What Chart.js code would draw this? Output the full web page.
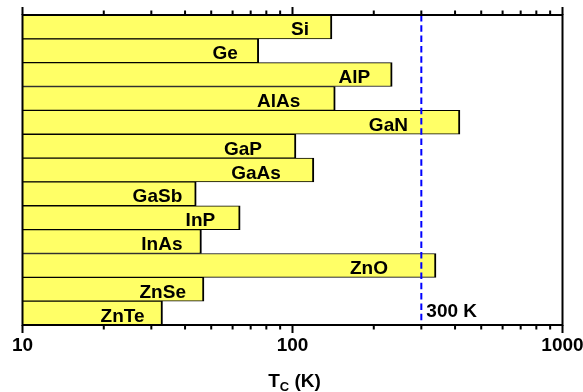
<!DOCTYPE html>
<html>
<head>
<meta charset="utf-8">
<script src="https://cdn.jsdelivr.net/npm/chart.js@4.4.1/dist/chart.umd.min.js"></script>
<style>
  html, body { margin: 0; padding: 0; background: #fff; }
  #wrap { width: 583px; height: 392px; }
</style>
</head>
<body>
<div id="wrap"><canvas id="tcChart"></canvas></div>
<script>
// Curie temperatures (K)
const materials = ["Si", "Ge", "AlP", "AlAs", "GaN", "GaP", "GaAs", "GaSb", "InP", "InAs", "ZnO", "ZnSe", "ZnTe"];
const tcValues = [140, 75, 234, 144, 417, 103, 120, 44, 64, 46, 340, 47, 33];
const tickLabels = [10, 100, 1000];
const roomTemp = 300;

// how far each name sits left of its bar end (px)
const labelGaps = [23, 21, 22, 35, 52, 34, 33, 14, 25, 19, 48, 18, 18];

const FONT = "'Liberation Sans', Arial, Helvetica, sans-serif";

const frame = {
  id: "frame",
  afterDatasetsDraw(chart) {
    const { ctx, chartArea: a, scales } = chart;
    const x = scales.x, y = scales.y;
    ctx.save();

    // names inside the bars
    ctx.fillStyle = "#000";
    ctx.font = "bold 19px " + FONT;
    ctx.textAlign = "right";
    ctx.textBaseline = "alphabetic";
    materials.forEach((m, i) => {
      const px = x.getPixelForValue(tcValues[i]);
      const py = y.getPixelForValue(i);
      ctx.fillText(m, px - labelGaps[i], py + 8.5);
    });

    // 300 K marker
    const rx = x.getPixelForValue(roomTemp);
    ctx.strokeStyle = "#0000ff";
    ctx.lineWidth = 2;
    ctx.setLineDash([6.5, 3.8]);
    ctx.beginPath();
    ctx.moveTo(rx, a.top);
    ctx.lineTo(rx, a.bottom);
    ctx.stroke();
    ctx.setLineDash([]);
    ctx.textAlign = "left";
    ctx.fillText(roomTemp + " K", rx + 5, a.bottom - 8.5);

    // box
    ctx.strokeStyle = "#000";
    ctx.lineWidth = 2;
    ctx.strokeRect(a.left, a.top, a.right - a.left, a.bottom - a.top);

    // log ticks, outward on top and bottom
    ctx.lineWidth = 2;
    ctx.beginPath();
    for (let dec = 10; dec < 1000; dec *= 10) {
      for (let k = 1; k <= 10; k++) {
        const px = x.getPixelForValue(dec * k);
        const len = (k === 1 || k === 10) ? 8 : 4.5;
        ctx.moveTo(px, a.top);
        ctx.lineTo(px, a.top - len);
        ctx.moveTo(px, a.bottom);
        ctx.lineTo(px, a.bottom + len);
      }
    }
    ctx.stroke();

    // axis title T_C (K)
    const cx = (a.left + a.right) / 2 + 2;
    const by = 386.5;
    ctx.font = "bold 19px " + FONT;
    const wT = ctx.measureText("T").width;
    const wK = ctx.measureText(" (K)").width;
    ctx.font = "bold 13px " + FONT;
    const wC = ctx.measureText("C").width;
    const sx = cx - (wT + wC + wK) / 2;
    ctx.font = "bold 19px " + FONT;
    ctx.fillText("T", sx, by);
    ctx.font = "bold 13px " + FONT;
    ctx.fillText("C", sx + wT, by + 4);
    ctx.font = "bold 19px " + FONT;
    ctx.fillText(" (K)", sx + wT + wC, by);

    ctx.restore();
  }
};

new Chart(document.getElementById("tcChart"), {
  type: "bar",
  data: {
    labels: materials,
    datasets: [{
      data: tcValues,
      backgroundColor: "#ffff66",
      borderColor: "#000",
      borderWidth: { top: 1, bottom: 1, right: 2, left: 0 },
      borderSkipped: false,
      barPercentage: 1,
      categoryPercentage: 1,
    }],
  },
  options: {
    indexAxis: "y",
    responsive: true,
    maintainAspectRatio: false,
    animation: false,
    layout: { padding: { left: 22.5, right: 20.5, top: 15, bottom: 0 } },
    plugins: {
      legend: { display: false },
      tooltip: { enabled: false },
    },
    scales: {
      x: {
        type: "logarithmic",
        position: "bottom",
        min: 10,
        max: 1000,
        afterFit(scale) {
          scale.height = 67;
          scale.paddingLeft = 0;
          scale.paddingRight = 0;
        },
        afterBuildTicks(scale) {
          scale.ticks = tickLabels.map(v => ({ value: v }));
        },
        grid: { display: false, drawTicks: false },
        border: { display: false },
        ticks: {
          autoSkip: false,
          maxRotation: 0,
          padding: 9,
          color: "#000",
          font: { family: FONT, size: 19, weight: "bold" },
          callback: (v) => String(v),
        },
      },
      y: {
        display: false,
      },
    },
  },
  plugins: [frame],
});
</script>
</body>
</html>
